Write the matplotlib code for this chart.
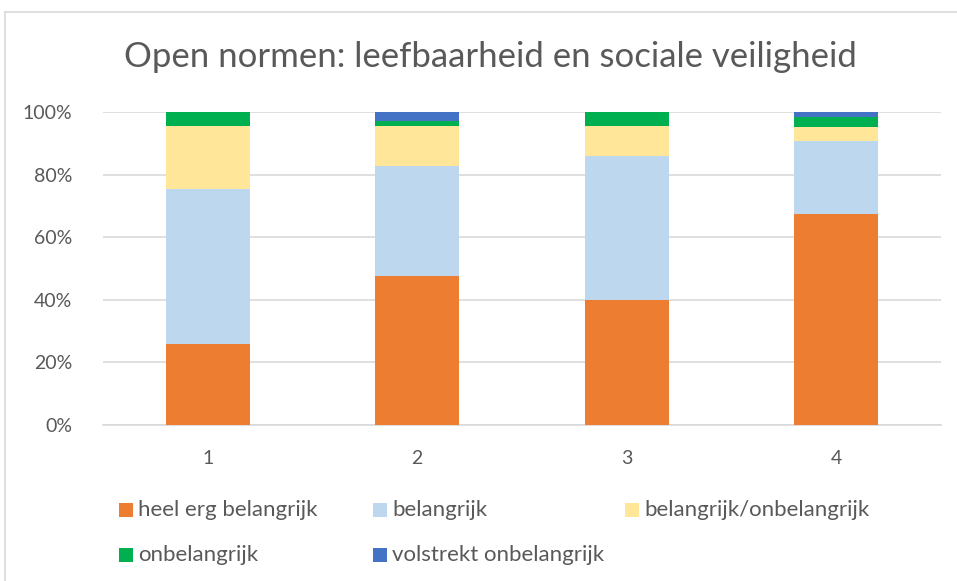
import matplotlib
matplotlib.use("Agg")
import matplotlib.pyplot as plt
from matplotlib.lines import Line2D
from matplotlib.patches import Rectangle
from matplotlib.ticker import PercentFormatter, MultipleLocator

categories = ["1", "2", "3", "4"]
series_names = ["heel erg belangrijk", "belangrijk", "belangrijk/onbelangrijk",
                "onbelangrijk", "volstrekt onbelangrijk"]
heel_erg_belangrijk = [25.9, 47.6, 39.9, 67.3]
belangrijk = [49.5, 35.3, 46.2, 23.3]
neutraal = [20.0, 12.5, 9.3, 4.7]
onbelangrijk = [4.6, 1.7, 4.6, 3.1]
volstrekt_onbelangrijk = [0.0, 2.9, 0.0, 1.6]
colors = ["#ED7D31", "#BDD7EE", "#FFE699", "#00B050", "#4472C4"]

series = [heel_erg_belangrijk, belangrijk, neutraal, onbelangrijk, volstrekt_onbelangrijk]

plt.rcParams['font.family'] = ['Lato', 'DejaVu Sans']
text_color = "#595959"

fig = plt.figure(figsize=(9.57, 5.81), dpi=100)
W, H = 957, 581
ax = fig.add_axes([103 / W, (H - 425) / H, (941 - 103) / W, (425 - 112) / H])

x = list(range(len(categories)))
bottoms = [0.0] * len(categories)
totals = [sum(s[i] for s in series) for i in x]
for vals, col, name in zip(series, colors, series_names):
    frac = [v / t * 100 for v, t in zip(vals, totals)]
    ax.bar(x, frac, width=0.4, bottom=bottoms, color=col, label=name, zorder=3)
    bottoms = [b + f for b, f in zip(bottoms, frac)]

ax.set_xlim(-0.5, len(categories) - 0.5)
ax.set_ylim(0, 100)
ax.yaxis.set_major_locator(MultipleLocator(20))
ax.yaxis.set_major_formatter(PercentFormatter(decimals=0))
ax.set_xticks(x)
ax.set_xticklabels(categories)
ax.grid(axis='y', color="#D9D9D9", linewidth=1.2, zorder=0)
for s in ["top", "right", "left"]:
    ax.spines[s].set_visible(False)
ax.spines["bottom"].set_color("#D9D9D9")
ax.spines["bottom"].set_linewidth(1.2)
ax.tick_params(axis='both', length=0, colors=text_color, labelsize=14)
ax.tick_params(axis='y', pad=22)
ax.tick_params(axis='x', pad=18)

fig.text(490 / W, 1 - 57 / H, "Open normen: leefbaarheid en sociale veiligheid",
         ha='center', va='center', fontsize=25, color=text_color)

leg_pos = [(119, 510), (373, 510), (625, 510), (119, 555), (373, 555)]
for (px, py), c, name in zip(leg_pos, colors, series_names):
    fig.patches.append(Rectangle(
        (px / W, 1 - (py + 7) / H), 14 / W, 14 / H, transform=fig.transFigure,
        facecolor=c, edgecolor='none'))
    fig.text((px + 19) / W, 1 - py / H, name, ha='left', va='center',
             fontsize=16, color=text_color)

# chart border (partially visible)
fig.add_artist(Line2D([5 / W, 5 / W], [0, 1 - 12 / H], transform=fig.transFigure,
                      color="#D9D9D9", linewidth=1.2))
fig.add_artist(Line2D([5 / W, 1], [1 - 12 / H, 1 - 12 / H], transform=fig.transFigure,
                      color="#D9D9D9", linewidth=1.2))

fig.savefig("out.png", dpi=100)
